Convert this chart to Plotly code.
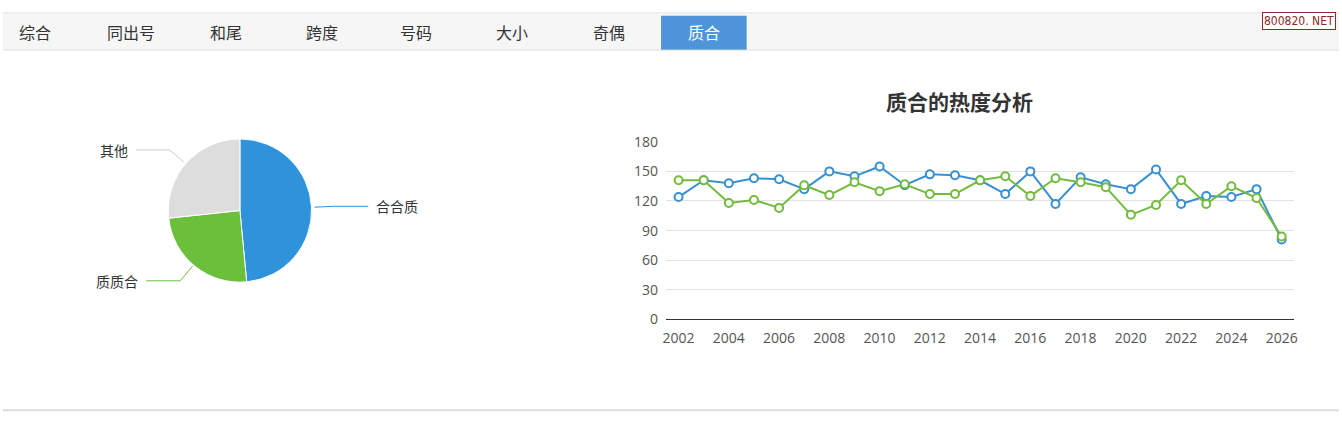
import math
import plotly.graph_objects as go

W, H = 1342, 422

tabs = ["综合", "同出号", "和尾", "跨度", "号码", "大小", "奇偶", "质合"]
tab_x = [32, 129, 224, 320, 415, 511, 609, 704]
active_tab = "质合"

pie_labels = ["合合质", "质质合", "其他"]
pie_values = [48.5, 24.8, 26.7]
pie_colors = ["#2e93da", "#6bbf3a", "#dddddd"]

years = list(range(2002, 2027))
blue_vals = [124, 141, 138, 143, 142, 132, 150, 145, 155, 136, 147, 146, 141,
             127, 150, 117, 144, 137, 132, 152, 117, 125, 124, 132, 81]
green_vals = [141, 141, 118, 121, 113, 136, 126, 139, 130, 137, 127, 127, 141,
              145, 125, 143, 139, 134, 106, 116, 141, 117, 135, 123, 84]
line_colors = ["#3790d0", "#72bb3c"]

cjk = "Noto Sans CJK SC"


def px(x):
    return x / W


def py(y):
    return 1 - y / H


fig = go.Figure()

# pie on the left
cx, cy, r = 238, 210, 75
fig.add_trace(go.Pie(
    labels=pie_labels, values=pie_values, sort=False, direction="clockwise",
    rotation=0, textinfo="none", hoverinfo="label+percent",
    marker=dict(colors=pie_colors, line=dict(color="white", width=1)),
    domain=dict(x=[px(cx - r), px(cx + r)], y=[py(cy + r), py(cy - r)]),
    showlegend=False,
))

# leader lines + labels, placed from the slice mid angles
shapes = []
annotations = []
total = sum(pie_values)
acc = 0
for lab, v, col in zip(pie_labels, pie_values, pie_colors):
    mid = (acc + v / 2) / total * 2 * math.pi
    acc += v
    sx, sy = math.sin(mid), -math.cos(mid)
    x0, y0 = cx + r * sx, cy + r * sy
    x1, y1 = cx + (r + 20) * sx, cy + (r + 20) * sy
    side = 1 if sx >= 0 else -1
    x2 = x1 + side * 34
    lc = "#cccccc" if col == "#dddddd" else col
    shapes.append(dict(type="path", xref="paper", yref="paper",
                       path=f"M {px(x0)} {py(y0)} L {px(x1)} {py(y1)} L {px(x2)} {py(y1)}",
                       line=dict(color=lc, width=1)))
    annotations.append(dict(x=px(x2 + side * 6), y=py(y1), xref="paper", yref="paper",
                            text=lab, showarrow=False,
                            xanchor="left" if side > 0 else "right", yanchor="middle",
                            font=dict(family=cjk, size=14, color="#333")))

# line chart on the right
for name, vals, col in zip(["合合质", "质质合"], [blue_vals, green_vals], line_colors):
    fig.add_trace(go.Scatter(
        x=years, y=vals, mode="lines+markers", name=name,
        line=dict(color=col, width=2),
        marker=dict(symbol="circle", size=8, color="white", line=dict(color=col, width=2)),
        xaxis="x", yaxis="y", showlegend=False,
    ))

# tab bar
shapes.append(dict(type="rect", xref="paper", yref="paper", x0=0, x1=1, y0=py(42), y1=py(3),
                   fillcolor="#f6f6f6", line=dict(width=0), layer="below"))
shapes.append(dict(type="line", xref="paper", yref="paper", x0=0, x1=1, y0=py(42), y1=py(42),
                   line=dict(color="#dddddd", width=1)))
shapes.append(dict(type="line", xref="paper", yref="paper", x0=0, x1=1, y0=py(3), y1=py(3),
                   line=dict(color="#e6e6e6", width=1)))
shapes.append(dict(type="rect", xref="paper", yref="paper", x0=px(661), x1=px(747),
                   y0=py(42), y1=py(6), fillcolor="#4d94d8", line=dict(width=0), layer="below"))
shapes.append(dict(type="line", xref="paper", yref="paper", x0=0, x1=1, y0=py(419), y1=py(419),
                   line=dict(color="#dddddd", width=2)))
for t, x in zip(tabs, tab_x):
    annotations.append(dict(x=px(x), y=py(23), xref="paper", yref="paper", text=t,
                            showarrow=False, xanchor="center", yanchor="middle",
                            font=dict(family=cjk, size=16,
                                      color="white" if t == active_tab else "#333")))

# watermark
annotations.append(dict(x=px(1302), y=py(11), xref="paper", yref="paper", text="800820. NET",
                        showarrow=False, xanchor="center", yanchor="middle",
                        font=dict(family="DejaVu Sans Condensed, Liberation Sans Narrow", size=12,
                                  color="#8a2a2a"),
                        bgcolor="white", bordercolor="#8a2a2a", borderwidth=1, borderpad=1))

# chart title
annotations.append(dict(x=px(961), y=py(95), xref="paper", yref="paper", text="<b>质合的热度分析</b>",
                        showarrow=False, xanchor="center", yanchor="middle",
                        font=dict(family=cjk, size=21, color="#333")))

fig.update_layout(
    width=W, height=H,
    margin=dict(l=0, r=0, t=0, b=0),
    paper_bgcolor="white", plot_bgcolor="white",
    shapes=shapes, annotations=annotations,
    xaxis=dict(domain=[px(666), px(1297)], range=[2001.5, 2026.5],
               tickmode="array", tickvals=years[::2], ticktext=[str(y) for y in years[::2]],
               showgrid=False, zeroline=False, showline=True, linecolor="#333", linewidth=1,
               ticks="", ticklabelstandoff=6,
               tickfont=dict(family="Open Sans", size=14, color="#555"),
               anchor="y"),
    yaxis=dict(domain=[py(324), py(138)], range=[0, 180], dtick=30,
               showgrid=True, gridcolor="#e3e3e3", zeroline=False, showline=False,
               ticks="", ticklabelstandoff=7,
               tickfont=dict(family="Open Sans", size=14, color="#555"),
               anchor="x"),
    font=dict(family=cjk),
)

# drop the default page margin so the figure sits flush in the window
fig.write_html("out.html", config={"displayModeBar": False},
               post_script="document.body.style.margin='0';document.body.style.overflow='hidden';")
